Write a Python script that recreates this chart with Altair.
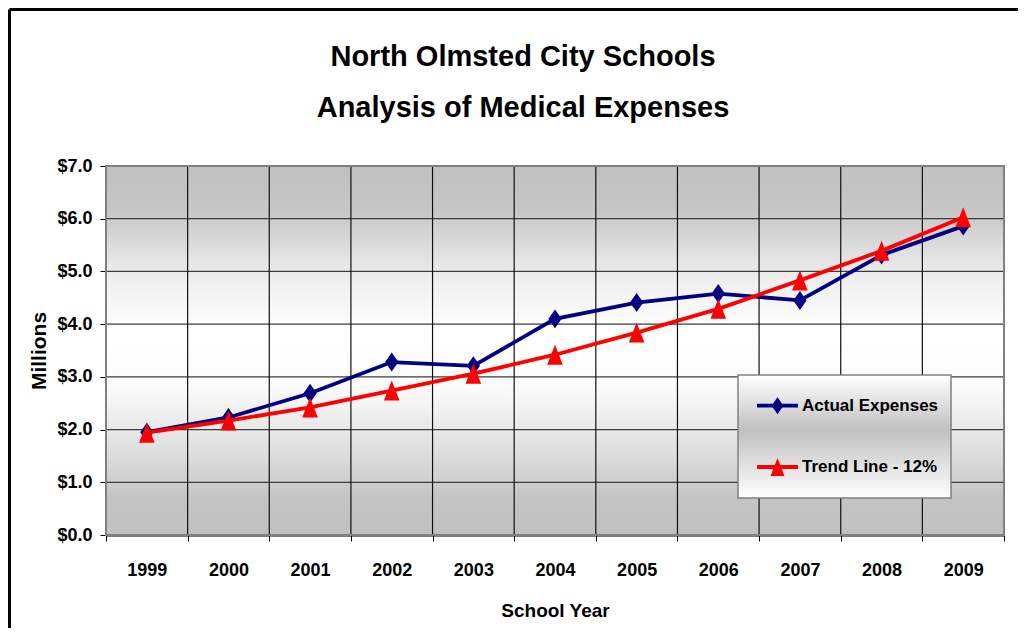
import altair as alt
import pandas as pd

# ---------------- data ----------------
YEARS = ["1999", "2000", "2001", "2002", "2003", "2004", "2005", "2006", "2007", "2008", "2009"]
ACTUAL = [1.95, 2.23, 2.69, 3.28, 3.21, 4.10, 4.41, 4.58, 4.45, 5.31, 5.86]
TREND = [1.94, 2.17, 2.42, 2.74, 3.06, 3.42, 3.84, 4.29, 4.83, 5.39, 6.03]
SERIES = ["Actual Expenses", "Trend Line - 12%"]
COLORS = ["#000080", "#FF0000"]
Y_TICKS = [0, 1, 2, 3, 4, 5, 6, 7]
TITLE_LINES = ["North Olmsted City Schools", "Analysis of Medical Expenses"]
X_TITLE = "School Year"
Y_TITLE = "Millions"

# ---------------- layout / style ----------------
W, H = 898, 369
FONT = "Liberation Sans, Arial, sans-serif"
DIAMOND = "M0,-1L0.7,0L0,1L-0.7,0Z"
TRIANGLE = "M0,-1L0.78,1L-0.78,1Z"
SHAPES = [DIAMOND, TRIANGLE]
SIZES = [360, 400]

x_scale = alt.Scale(type="band", domain=YEARS, paddingInner=0, paddingOuter=0)
y_scale = alt.Scale(domain=[0, 7], nice=False, zero=True)

df = pd.DataFrame({
    "year": YEARS * 2,
    "value": ACTUAL + TREND,
    "series": [SERIES[0]] * len(YEARS) + [SERIES[1]] * len(YEARS),
})

one = alt.Data(values=[{"k": 1}])

def grad(stops):
    return alt.Gradient(gradient="linear", x1=0, y1=0, x2=0, y2=1,
                        stops=[alt.GradientStop(offset=o, color=c) for o, c in stops])

x_axis = alt.Axis(
    title=X_TITLE, tickBand="extent", labelAngle=0, grid=False,
    labelFont=FONT, labelFontSize=18, labelFontWeight="bold", labelColor="#000000",
    labelPadding=20, tickSize=6, tickColor="#000000", tickWidth=1,
    domainColor="#000000", domainWidth=2,
    titleFont=FONT, titleFontSize=19, titleFontWeight="bold", titleColor="#000000",
    titlePadding=22,
)
y_axis = alt.Axis(
    title=Y_TITLE, values=Y_TICKS, format="$.1f", grid=False,
    labelFont=FONT, labelFontSize=18, labelFontWeight="bold", labelColor="#000000",
    labelPadding=8, tickSize=6, tickColor="#000000", tickWidth=1,
    domainColor="#000000", domainWidth=1.5,
    titleFont=FONT, titleFontSize=21, titleFontWeight="bold",
    titleColor="#000000", titlePadding=7,
)

def X(**kw):
    return alt.X("year:O", scale=x_scale, axis=x_axis, **kw)

def Y(field):
    return alt.Y(field, scale=y_scale, axis=y_axis)

# plot background gradient
bg = alt.Chart(one).mark_rect(
    fill=grad([(0, "#c0c0c0"), (0.12, "#c6c6c6"), (0.3, "#eeeeee"), (0.45, "#ffffff"),
               (0.6, "#fbfbfb"), (0.78, "#dddddd"), (0.9, "#c4c4c4"), (1, "#c0c0c0")])
).encode(x=alt.value(0), x2=alt.value(W), y=alt.value(0), y2=alt.value(H))

hgrid = alt.Chart(pd.DataFrame({"value": Y_TICKS})).mark_rule(color="#3c3c3c", strokeWidth=1.2).encode(
    y=Y("value:Q")
)
vgrid = alt.Chart(pd.DataFrame({"year": YEARS})).mark_rule(color="#111111", strokeWidth=1.2).encode(
    x=X(bandPosition=0)
)
frame = alt.Chart(one).mark_rect(filled=False, stroke="#808080", strokeWidth=2).encode(
    x=alt.value(0), x2=alt.value(W), y=alt.value(0), y2=alt.value(H)
)

series_layers = []
for i, s in enumerate(SERIES):
    sub = df[df["series"] == s]
    line = alt.Chart(sub).mark_line(color=COLORS[i], strokeWidth=3.8).encode(
        x=X(bandPosition=0.5), y=Y("value:Q"))
    pts = alt.Chart(sub).mark_point(shape=SHAPES[i], size=SIZES[i], filled=True, opacity=1,
                                    color=COLORS[i]).encode(x=X(bandPosition=0.5), y=Y("value:Q"))
    series_layers += [line, pts]

# title (two lines)
title_layers = []
for i, t in enumerate(TITLE_LINES):
    title_layers.append(
        alt.Chart(one).mark_text(text=t, font=FONT, fontSize=29, fontWeight="bold",
                                 color="#000000", align="center", baseline="alphabetic")
        .encode(x=alt.value(417), y=alt.value(-100 + 51 * i))
    )

# legend box
LX0, LX1, LY0, LY1 = 632, 845, 209, 332
legend_layers = [
    alt.Chart(one).mark_rect(
        fill=grad([(0, "#ffffff"), (0.45, "#c0c0c0"), (1, "#ffffff")]),
        stroke="#808080", strokeWidth=1.5,
    ).encode(x=alt.value(LX0), x2=alt.value(LX1), y=alt.value(LY0), y2=alt.value(LY1))
]
for i, s in enumerate(SERIES):
    yy = 239.7 + 61.3 * i
    legend_layers += [
        alt.Chart(one).mark_rule(color=COLORS[i], strokeWidth=3.8).encode(
            x=alt.value(651), x2=alt.value(692), y=alt.value(yy)),
        alt.Chart(one).mark_point(shape=SHAPES[i], size=SIZES[i] * 0.8, filled=True, opacity=1,
                                  color=COLORS[i]).encode(x=alt.value(671.5), y=alt.value(yy)),
        alt.Chart(one).mark_text(text=s, font=FONT, fontSize=17, fontWeight="bold", color="#000000",
                                 align="left", baseline="middle").encode(
            x=alt.value(696), y=alt.value(yy)),
    ]

# outer frame (black lines top and left)
border = [
    alt.Chart(one).mark_rule(color="#000000", strokeWidth=3).encode(
        x=alt.value(-96.5), x2=alt.value(925), y=alt.value(-156.5)),
    alt.Chart(one).mark_rule(color="#000000", strokeWidth=3).encode(
        x=alt.value(-96.5), y=alt.value(-156.5), y2=alt.value(H + 100)),
]

chart = alt.layer(
    bg, hgrid, vgrid, frame, *series_layers, *legend_layers, *title_layers, *border
).properties(
    width=W, height=H,
    autosize=alt.AutoSizeParams(type="none"),
    padding={"left": 98, "top": 158, "right": 14, "bottom": 93},
    background="#ffffff",
).configure_view(strokeWidth=0)

chart.save("out.html", embed_options={"renderer": "svg", "actions": False})
